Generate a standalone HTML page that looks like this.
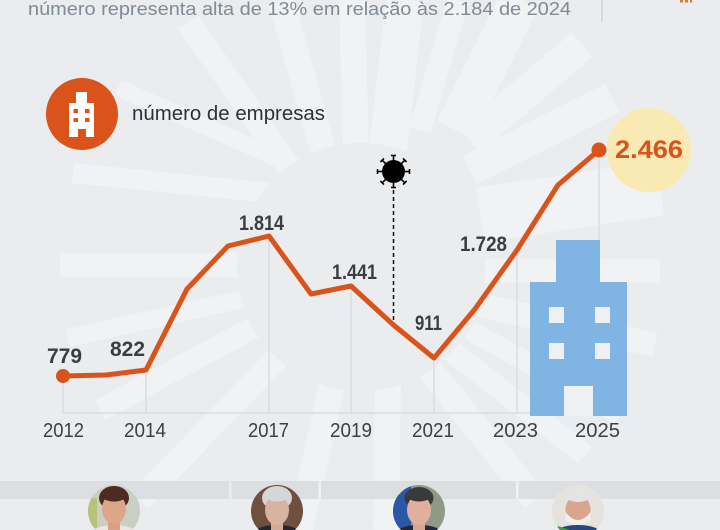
<!DOCTYPE html>
<html><head><meta charset="utf-8"><style>
html,body{margin:0;padding:0;background:#ebecee;width:720px;height:530px;overflow:hidden;}
svg{display:block;font-family:"Liberation Sans",sans-serif;overflow:hidden;}
</style></head><body>
<svg width="720" height="530" viewBox="0 0 720 530" xmlns="http://www.w3.org/2000/svg">
<defs>
<clipPath id="c1"><circle cx="114" cy="511" r="26"/></clipPath>
<clipPath id="c2"><circle cx="277" cy="511" r="26"/></clipPath>
<clipPath id="c3"><circle cx="419" cy="511" r="26"/></clipPath>
<clipPath id="c4"><circle cx="578" cy="511" r="26"/></clipPath>
</defs>
<rect width="720" height="530" fill="#ebecee"/>
<!-- sunburst rays -->
<g stroke="#f1f2f4" stroke-linecap="butt" fill="none">
<line x1="188" y1="22" x2="300" y2="183" stroke-width="24"/>
<line x1="281" y1="0" x2="330" y2="175" stroke-width="26"/>
<line x1="352" y1="0" x2="356" y2="160" stroke-width="26"/>
<line x1="405" y1="0" x2="388" y2="150" stroke-width="38"/>
<line x1="458" y1="0" x2="420" y2="130" stroke-width="22"/>
<line x1="520" y1="0" x2="455" y2="130" stroke-width="40"/>
<line x1="582" y1="45" x2="470" y2="140" stroke-width="32"/>
<line x1="612" y1="98" x2="470" y2="170" stroke-width="32"/>
<line x1="660" y1="188" x2="480" y2="215" stroke-width="55"/>
<line x1="660" y1="271" x2="480" y2="271" stroke-width="24"/>
<line x1="655" y1="345" x2="480" y2="305" stroke-width="24"/>
<line x1="620" y1="415" x2="470" y2="330" stroke-width="20"/>
<line x1="585" y1="455" x2="450" y2="350" stroke-width="22"/>
<line x1="535" y1="500" x2="430" y2="370" stroke-width="26"/>
<line x1="386" y1="530" x2="388" y2="380" stroke-width="26"/>
<line x1="300" y1="530" x2="335" y2="370" stroke-width="26"/>
<line x1="140" y1="500" x2="290" y2="345" stroke-width="24"/>
<line x1="100" y1="410" x2="275" y2="316" stroke-width="22"/>
<line x1="68" y1="338" x2="270" y2="293" stroke-width="18"/>
<line x1="60" y1="265" x2="260" y2="265" stroke-width="24"/>
<line x1="73" y1="173" x2="290" y2="195" stroke-width="20"/>
<line x1="118" y1="88" x2="300" y2="168" stroke-width="17"/>
</g>
<circle cx="361" cy="267" r="124" fill="#ebecee"/>

<!-- header -->
<text x="28" y="15" font-size="18" fill="#7f8b95" textLength="543" lengthAdjust="spacingAndGlyphs">número representa alta de 13% em relação às 2.184 de 2024</text>
<line x1="602" y1="0" x2="602" y2="22" stroke="#d2d5d9" stroke-width="1.5"/>
<rect x="680" y="0" width="3" height="2.5" fill="#e4743a"/>
<rect x="685" y="0" width="3" height="2.5" fill="#e4743a"/>
<rect x="690" y="0" width="2" height="2.5" fill="#e4743a"/>

<!-- legend -->
<circle cx="82" cy="114" r="36" fill="#d9531a"/>
<g fill="#ffffff">
<rect x="76" y="92" width="11" height="12"/>
<rect x="69" y="103" width="25" height="34"/>
</g>
<g fill="#d9531a">
<rect x="73.5" y="109" width="4.5" height="4"/>
<rect x="85" y="109" width="4.5" height="4"/>
<rect x="73.5" y="118" width="4.5" height="4"/>
<rect x="85" y="118" width="4.5" height="4"/>
<rect x="78" y="129" width="8" height="8"/>
</g>
<text x="132" y="120" font-size="20" fill="#2e3035" textLength="193" lengthAdjust="spacingAndGlyphs">número de empresas</text>

<!-- yellow highlight -->
<circle cx="649" cy="150" r="42" fill="#f9e9b3"/>

<!-- grid -->
<g stroke="#d6d8db" stroke-width="1.2">
<line x1="63" y1="413" x2="599" y2="413"/>
<line x1="63" y1="376" x2="63" y2="413"/>
<line x1="146" y1="370" x2="146" y2="413"/>
<line x1="269" y1="236" x2="269" y2="413"/>
<line x1="351" y1="286" x2="351" y2="413"/>
<line x1="434" y1="358" x2="434" y2="413"/>
<line x1="517" y1="250" x2="517" y2="413"/>
<line x1="599" y1="150" x2="599" y2="413"/>
</g>

<!-- blue building -->
<g fill="#80b4e3">
<rect x="556" y="240" width="44" height="43"/>
<rect x="530" y="282" width="97" height="134"/>
</g>
<g fill="#eef0f2">
<rect x="549" y="307" width="15" height="16"/>
<rect x="595" y="307" width="15" height="16"/>
<rect x="549" y="343" width="15" height="16"/>
<rect x="595" y="343" width="15" height="16"/>
<rect x="564" y="386" width="29" height="30"/>
</g>

<!-- covid marker -->
<line x1="393.5" y1="190" x2="393.5" y2="325" stroke="#111" stroke-width="1.5" stroke-dasharray="4 3"/>
<g stroke="#000" stroke-width="1.6" fill="none">
<line x1="393.5" y1="171.5" x2="409.5" y2="171.5"/><line x1="409.5" y1="169" x2="409.5" y2="174"/>
<line x1="393.5" y1="171.5" x2="393.5" y2="187.5"/><line x1="391" y1="187.5" x2="396" y2="187.5"/>
<line x1="393.5" y1="171.5" x2="377.5" y2="171.5"/><line x1="377.5" y1="169" x2="377.5" y2="174"/>
<line x1="393.5" y1="171.5" x2="393.5" y2="155.5"/><line x1="391" y1="155.5" x2="396" y2="155.5"/>
<line x1="393.5" y1="171.5" x2="404.8" y2="182.8"/><line x1="403" y1="184.6" x2="406.6" y2="181"/>
<line x1="393.5" y1="171.5" x2="382.2" y2="182.8"/><line x1="380.4" y1="181" x2="384" y2="184.6"/>
<line x1="393.5" y1="171.5" x2="382.2" y2="160.2"/><line x1="384" y1="158.4" x2="380.4" y2="162"/>
<line x1="393.5" y1="171.5" x2="404.8" y2="160.2"/><line x1="403" y1="158.4" x2="406.6" y2="162"/>
</g>
<circle cx="393.5" cy="171.5" r="11.5" fill="#000"/>

<!-- data line -->
<polyline points="63,376 106,375 146,370 187,289 228,246 269,236 311,294 351,286 393.5,325 434,358 475,309 517,250 558,185 599,150" fill="none" stroke="#d9531a" stroke-width="5" stroke-linejoin="round" stroke-linecap="round"/>
<circle cx="63" cy="376" r="7" fill="#d9531a"/>
<circle cx="599" cy="150" r="7.5" fill="#d9531a"/>

<!-- value labels -->
<g font-size="21" font-weight="bold" fill="#3a3d43">
<text x="47" y="363" textLength="35" lengthAdjust="spacingAndGlyphs">779</text>
<text x="110" y="356" textLength="35" lengthAdjust="spacingAndGlyphs">822</text>
<text x="239" y="230" textLength="45" lengthAdjust="spacingAndGlyphs">1.814</text>
<text x="332" y="279" textLength="45" lengthAdjust="spacingAndGlyphs">1.441</text>
<text x="415" y="330" textLength="27" lengthAdjust="spacingAndGlyphs">911</text>
<text x="460" y="251" textLength="47" lengthAdjust="spacingAndGlyphs">1.728</text>
</g>
<text x="615" y="158" font-size="25" font-weight="bold" fill="#d9531a" textLength="68" lengthAdjust="spacingAndGlyphs">2.466</text>

<!-- year labels -->
<g font-size="20" fill="#3c3f45">
<text x="43" y="437" textLength="41" lengthAdjust="spacingAndGlyphs">2012</text>
<text x="124" y="437" textLength="42" lengthAdjust="spacingAndGlyphs">2014</text>
<text x="248" y="437" textLength="41" lengthAdjust="spacingAndGlyphs">2017</text>
<text x="330" y="437" textLength="42" lengthAdjust="spacingAndGlyphs">2019</text>
<text x="412" y="437" textLength="42" lengthAdjust="spacingAndGlyphs">2021</text>
<text x="493" y="437" textLength="45" lengthAdjust="spacingAndGlyphs">2023</text>
<text x="575" y="437" textLength="45" lengthAdjust="spacingAndGlyphs">2025</text>
</g>

<!-- bottom band -->
<g fill="#dcdfe1">
<rect x="0" y="481" width="229" height="18"/>
<rect x="231.5" y="481" width="87" height="18"/>
<rect x="321" y="481" width="195" height="18"/>
<rect x="518.5" y="481" width="202" height="18"/>
</g>

<!-- portraits -->
<g clip-path="url(#c1)">
<rect x="86" y="484" width="56" height="46" fill="#c9cfc3"/>
<rect x="86" y="498" width="11" height="32" fill="#b9c27a"/>
<ellipse cx="114" cy="533" rx="22" ry="8" fill="#ece6e0"/>
<rect x="108" y="515" width="12" height="15" fill="#d9a085"/>
<ellipse cx="114" cy="498" rx="15" ry="12" fill="#4d2b1f"/>
<ellipse cx="114" cy="509" rx="12" ry="15" fill="#dca68b"/>
<ellipse cx="114" cy="496" rx="12" ry="5.5" fill="#4d2b1f"/>
</g>
<g clip-path="url(#c2)">
<rect x="249" y="484" width="56" height="46" fill="#6e4f40"/>
<ellipse cx="277" cy="534" rx="24" ry="9" fill="#25262b"/>
<rect x="271" y="515" width="12" height="15" fill="#d4a996"/>
<ellipse cx="277" cy="498" rx="15" ry="12" fill="#d6d6d6"/>
<ellipse cx="277" cy="510" rx="12" ry="15" fill="#d9b2a0"/>
<ellipse cx="277" cy="496.5" rx="11" ry="5" fill="#d6d6d6"/>
</g>
<g clip-path="url(#c3)">
<rect x="391" y="484" width="56" height="46" fill="#8f9a86"/>
<rect x="391" y="484" width="20" height="46" fill="#2a57a6"/>
<path d="M391,486 L408,486 L391,502 Z" fill="#e6c623"/>
<ellipse cx="419" cy="534" rx="24" ry="9" fill="#20283a"/>
<rect x="413" y="515" width="12" height="15" fill="#d8a794"/>
<ellipse cx="419" cy="498" rx="14.5" ry="11" fill="#3a3a3c"/>
<ellipse cx="419" cy="510" rx="12" ry="15" fill="#e0b09c"/>
<ellipse cx="419" cy="497" rx="11" ry="4.5" fill="#3a3a3c"/>
</g>
<g clip-path="url(#c4)">
<rect x="550" y="484" width="56" height="46" fill="#e6e3dc"/>
<ellipse cx="578" cy="534" rx="24" ry="9" fill="#26467c"/>
<path d="M558,526 L570,530 L566,530 L556,530 Z" fill="#3e9a4a"/>
<ellipse cx="578" cy="500" rx="14.5" ry="11" fill="#e4e4e4"/>
<ellipse cx="578" cy="510" rx="12.5" ry="15" fill="#dba48c"/>
<path d="M565.5,512 Q578,528 590.5,512 L590.5,520 Q578,530 565.5,520 Z" fill="#efefef"/>
<ellipse cx="578" cy="497.5" rx="11" ry="4.5" fill="#e4e4e4"/>
</g>
</svg>
</body></html>
